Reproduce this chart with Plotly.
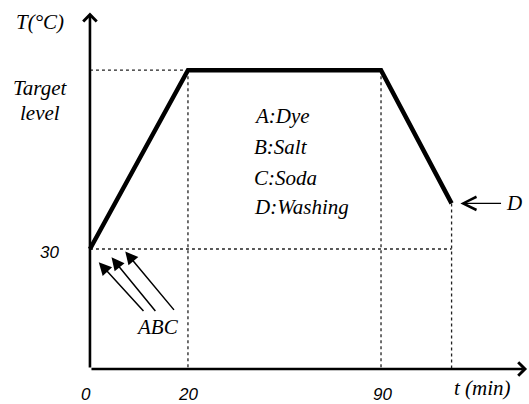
import plotly.graph_objects as go

# Schematic profile (positions on the drawing's own scale; labels are the real values)
time_labels = ["0", "20", "90"]
time_pos = [0.0, 1.0, 2.97]          # horizontal positions of 0, 20, 90 min
end_pos = 3.69                       # washing start (unlabelled time)
temp_30 = 1.0                        # 30 °C level
temp_target = 2.49                   # target level
temp_end = 1.38                      # temperature at D

profile_x = [time_pos[0], time_pos[1], time_pos[2], end_pos]
profile_y = [temp_30, temp_target, temp_target, temp_end]

legend_lines = ["A:Dye", "B:Salt", "C:Soda", "D:Washing"]

# ABC dosing arrows: tips and tails
abc_tip_x = [0.09, 0.22, 0.36]
abc_tip_y = [0.89, 0.93, 0.98]
abc_tail_x = [0.56, 0.68, 0.87]
abc_tail_y = [0.47, 0.47, 0.48]

x_range = [-0.918, 4.48]
y_range = [-0.292, 3.075]
x_axis_end = 4.46
y_axis_end = 2.97

fig = go.Figure()

dot = dict(color="#222222", width=1.3, dash="dot")
guides = [
    ([0, time_pos[1]], [temp_target, temp_target]),
    ([time_pos[1], time_pos[1]], [temp_target, 0]),
    ([0, end_pos], [temp_30, temp_30]),
    ([time_pos[2], time_pos[2]], [temp_target, 0]),
    ([end_pos, end_pos], [temp_end, 0]),
]
for gx, gy in guides:
    fig.add_trace(go.Scatter(x=gx, y=gy, mode="lines", line=dot, hoverinfo="skip"))

fig.add_trace(go.Scatter(x=profile_x, y=profile_y, mode="lines",
                         line=dict(color="black", width=4.5), hoverinfo="skip"))

ann = []
# axes with open arrowheads
for (tx, ty) in [(0, y_axis_end), (x_axis_end, 0)]:
    ann.append(dict(x=tx, y=ty, ax=0, ay=0, axref="x", ayref="y", xref="x", yref="y",
                    text="", showarrow=True, arrowhead=4, arrowwidth=2.6, arrowsize=1.0,
                    arrowcolor="black", standoff=0, startstandoff=0))

# ABC arrows
for tx, ty, sx, sy in zip(abc_tip_x, abc_tip_y, abc_tail_x, abc_tail_y):
    ann.append(dict(x=tx, y=ty, ax=sx, ay=sy, axref="x", ayref="y", xref="x", yref="y",
                    text="", showarrow=True, arrowhead=2, arrowwidth=1.5, arrowsize=1.7,
                    arrowcolor="black", standoff=0))

# D arrow
ann.append(dict(x=end_pos + 0.09, y=temp_end, ax=4.21, ay=temp_end, axref="x", ayref="y",
                xref="x", yref="y", text="", showarrow=True, arrowhead=5, arrowwidth=1.3,
                arrowsize=2.0, arrowcolor="black", standoff=0))

serif = dict(family="Liberation Serif", size=21, color="black")
sans = dict(family="Liberation Sans", size=17, color="black")

def txt(x, y, s, font, xanchor="center"):
    ann.append(dict(x=x, y=y, xref="x", yref="y", text=s, showarrow=False,
                    font=font, xanchor=xanchor, yanchor="middle"))

txt(-0.51, 2.89, "<i>T(°C)</i>", serif)
txt(-0.51, 2.34, "<i>Target</i>", serif)
txt(-0.51, 2.13, "<i>level</i>", serif)
txt(-0.41, 0.97, "<i>30</i>", sans)
txt(-0.04, -0.21, "<i>" + time_labels[0] + "</i>", sans)
txt(1.0, -0.215, "<i>" + time_labels[1] + "</i>", sans)
txt(2.99, -0.215, "<i>" + time_labels[2] + "</i>", sans)
txt(4.01, -0.16, "<i>t (min)</i>", serif)
for s, yy in zip(legend_lines, [2.11, 1.85, 1.59, 1.35]):
    txt(1.65, yy, "<i>" + s + "</i>", serif, xanchor="left")
txt(0.69, 0.35, "<i>ABC</i>", serif)
txt(4.33, temp_end, "<i>D</i>", serif)

fig.update_layout(
    width=529, height=404, margin=dict(l=0, r=0, t=0, b=0),
    paper_bgcolor="white", plot_bgcolor="white", showlegend=False,
    xaxis=dict(range=x_range, visible=False, fixedrange=True),
    yaxis=dict(range=y_range, visible=False, fixedrange=True),
    annotations=ann,
)

fig.write_html("out.html", config={"displayModeBar": False},
               post_script="document.body.style.margin='0';document.body.style.overflow='hidden';")
